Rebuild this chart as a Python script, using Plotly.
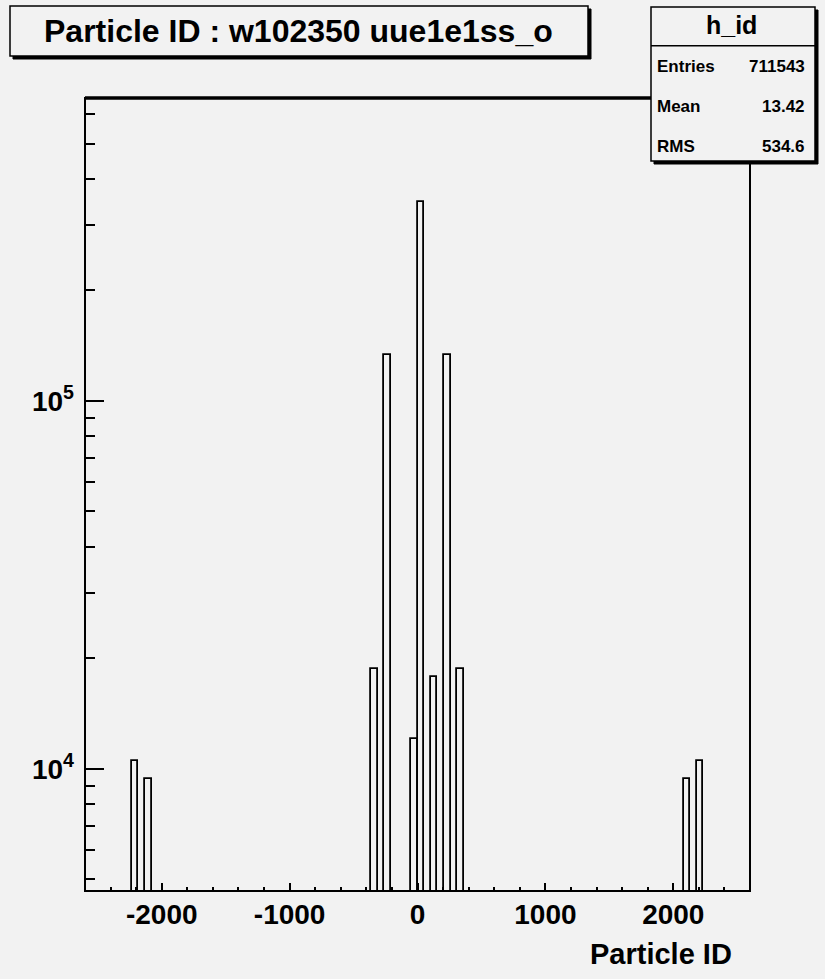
import plotly.graph_objects as go

# ---- data (histogram h_id: 100 bins of width 52 from -2600 to 2600; only non-empty bins listed)
bin_width = 52
bin_low_edges = [-2236, -2132, -364, -260, -52, 0, 104, 208, 312, 2080, 2184]
bin_counts = [10490, 9380, 18610, 133250, 12065, 346500, 17730, 133250, 18610, 9380, 10490]

title_text = "Particle ID : w102350 uue1e1ss_o"
stats_name = "h_id"
stats_labels = ["Entries", "Mean", "RMS"]
stats_values = ["711543", "13.42", "534.6"]
x_title = "Particle ID"
x_tickvals = [-2000, -1000, 0, 1000, 2000]
x_ticktext = ["-2000", "-1000", "0", "1000", "2000"]
y_tickvals = [1e4, 1e5]
y_ticktext = ["10<sup>4</sup>", "10<sup>5</sup>"]
y_minor_vals = [5000, 6000, 7000, 8000, 9000,
                20000, 30000, 40000, 50000, 60000, 70000, 80000, 90000,
                200000, 300000, 400000, 500000, 600000]

# ---- geometry (pixels, in window coordinates; page body margin removed via post_script)
OFF = 0
WIN_W, WIN_H = 825, 979
PL, PR, PT, PB = 85, 750, 98, 891  # plot area edges in window pixels
W = PR - PL
H = PB - PT
BG = "#f2f2f2"
FONT = "Liberation Sans"


def px(x):
    return (x - PL) / W


def py(y):
    return (PB - y) / H


centers = [e + bin_width / 2 for e in bin_low_edges]

fig = go.Figure()
fig.add_trace(go.Bar(
    x=centers, y=bin_counts, width=bin_width,
    marker=dict(color="rgba(0,0,0,0)", line=dict(color="black", width=1.8)),
    showlegend=False, hoverinfo="x+y",
))

shapes = []
# frame
shapes.append(dict(type="rect", xref="paper", yref="paper", x0=0, x1=1, y0=0, y1=1,
                   line=dict(color="black", width=2), layer="above"))
shapes.append(dict(type="line", xref="paper", yref="paper", x0=0, x1=1, y0=1, y1=1,
                   line=dict(color="black", width=3.5), layer="above"))


def box(x0, y0, x1, y1):
    # shadow (bottom-right) then box
    shapes.append(dict(type="rect", xref="paper", yref="paper",
                       x0=px(x0 + 3), x1=px(x1 + 3), y0=py(y1 + 3), y1=py(y0 + 3),
                       fillcolor="black", line=dict(color="black", width=1), layer="above"))
    shapes.append(dict(type="rect", xref="paper", yref="paper",
                       x0=px(x0), x1=px(x1), y0=py(y1), y1=py(y0),
                       fillcolor=BG, line=dict(color="black", width=1.5), layer="above"))


box(10, 6, 588, 56)
box(651, 7, 815, 161)
shapes.append(dict(type="line", xref="paper", yref="paper", x0=px(651), x1=px(815),
                   y0=py(45.7), y1=py(45.7), line=dict(color="black", width=1.5), layer="above"))

annotations = []
annotations.append(dict(text=title_text, xref="paper", yref="paper", x=px(298), y=py(31),
                        xanchor="center", yanchor="middle", showarrow=False,
                        font=dict(family=FONT, size=32, color="black", weight="bold")))
annotations.append(dict(text=stats_name, xref="paper", yref="paper", x=px(731), y=py(25),
                        xanchor="center", yanchor="middle", showarrow=False,
                        font=dict(family=FONT, size=25, color="black", weight="bold")))
for i, (lab, val) in enumerate(zip(stats_labels, stats_values)):
    yy = 66.7 + i * 39.7
    annotations.append(dict(text=lab, xref="paper", yref="paper", x=px(655), y=py(yy),
                            xanchor="left", yanchor="middle", showarrow=False,
                            font=dict(family=FONT, size=17, color="black", weight="bold")))
    annotations.append(dict(text=val, xref="paper", yref="paper", x=px(807), y=py(yy),
                            xanchor="right", yanchor="middle", showarrow=False,
                            font=dict(family=FONT, size=17, color="black", weight="bold")))
annotations.append(dict(text=x_title, xref="paper", yref="paper", x=px(734), y=py(954),
                        xanchor="right", yanchor="middle", showarrow=False,
                        font=dict(family=FONT, size=29, color="black", weight="bold")))

fig.update_layout(
    width=WIN_W - OFF, height=WIN_H - OFF,
    margin=dict(l=PL - OFF, r=WIN_W - PR, t=PT - OFF, b=WIN_H - PB, pad=0),
    paper_bgcolor=BG, plot_bgcolor=BG,
    bargap=0,
    shapes=shapes, annotations=annotations,
    xaxis=dict(
        range=[-2600, 2600], tickmode="array", tickvals=x_tickvals, ticktext=x_ticktext,
        ticks="inside", ticklen=8, tickwidth=1.5, tickcolor="black",
        minor=dict(dtick=200, tick0=0, ticks="inside", ticklen=4.5, tickwidth=1.5, tickcolor="black"),
        showgrid=False, zeroline=False, showline=False,
        ticklabelstandoff=4,
        tickfont=dict(family=FONT, size=28, color="black", weight="bold"),
    ),
    yaxis=dict(
        type="log", range=[3.6677, 5.8226], tickmode="array",
        tickvals=y_tickvals, ticktext=y_ticktext,
        ticks="inside", ticklen=19, tickwidth=1.5, tickcolor="black",
        minor=dict(tickmode="array", tickvals=y_minor_vals, ticks="inside", ticklen=10,
                   tickwidth=1.5, tickcolor="black"),
        showgrid=False, zeroline=False, showline=False,
        ticklabelstandoff=10,
        tickfont=dict(family=FONT, size=28, color="black", weight="bold"),
    ),
)

fig.write_html(
    "out.html",
    config={"displayModeBar": False},
    post_script="document.body.style.margin='0';document.body.style.overflow='hidden';",
)
